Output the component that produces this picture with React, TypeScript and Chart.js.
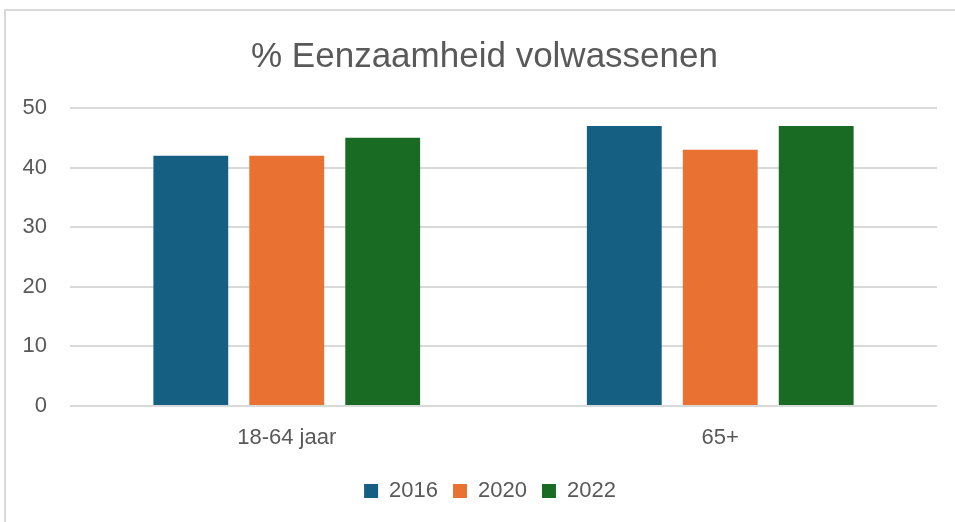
import React, { useEffect, useRef } from "react";
import { Chart, registerables } from "chart.js";

Chart.register(...registerables);

const categories = ["18-64 jaar", "65+"];
const seriesNames = ["2016", "2020", "2022"];
const values2016 = [42, 47];
const values2020 = [42, 43];
const values2022 = [45, 47];
const yTicks = [0, 10, 20, 30, 40, 50];
const titleText = "% Eenzaamheid volwassenen";

const colors = ["#156082", "#E97132", "#196B24"];
const FONT = "'Liberation Sans', Arial, sans-serif";
const TEXT = "#595959";

const centerBlocks = {
  id: "centerBlocks",
  afterLayout(chart: any) {
    const t = chart.titleBlock;
    if (t) {
      t.left = 14;
      t.right = 955;
      t.width = t.right - t.left;
    }
    const l = chart.legend;
    if (l) {
      l.left = 25;
      l.right = 955;
      l.width = l.right - l.left;
    }
  },
};

export default function App() {
  const ref = useRef<HTMLCanvasElement | null>(null);

  useEffect(() => {
    document.body.style.margin = "0";
    if (!ref.current) return;
    const data = [values2016, values2020, values2022];
    const chart = new Chart(ref.current, {
      type: "bar",
      data: {
        labels: categories,
        datasets: seriesNames.map((n, i) => ({
          label: n,
          data: data[i],
          backgroundColor: colors[i],
          borderWidth: 0,
          categoryPercentage: 0.664,
          barPercentage: 0.78,
        })),
      },
      plugins: [centerBlocks],
      options: {
        animation: false,
        responsive: false,
        maintainAspectRatio: false,
        layout: { padding: { left: 0, right: 18, top: 0, bottom: 10 } },
        plugins: {
          title: {
            display: true,
            text: titleText,
            color: TEXT,
            font: { family: FONT, size: 35, weight: "normal", lineHeight: 1.2 },
            padding: { top: 36, bottom: 30 },
          },
          legend: {
            position: "bottom",
            labels: {
              color: TEXT,
              font: { family: FONT, size: 22 },
              boxWidth: 14,
              boxHeight: 14,
              padding: 15,
            },
          },
          tooltip: { enabled: false },
        },
        scales: {
          x: {
            grid: { display: false, drawTicks: false },
            border: { display: false },
            ticks: { color: TEXT, font: { family: FONT, size: 22 }, padding: 19 },
            afterFit: (s: any) => {
              s.height = 59;
            },
          },
          y: {
            min: 0,
            max: 50,
            afterBuildTicks: (s: any) => {
              s.ticks = yTicks.map((v) => ({ value: v }));
            },
            grid: { color: "#D9D9D9", lineWidth: 2, drawTicks: false },
            border: { display: false },
            ticks: { color: TEXT, font: { family: FONT, size: 22 }, padding: 23 },
            afterFit: (s: any) => {
              s.width = 70;
            },
          },
        },
      },
    });
    return () => chart.destroy();
  }, []);

  return (
    <div style={{ position: "relative", width: 955, height: 522, overflow: "hidden", background: "#fff" }}>
      <div
        style={{
          position: "absolute",
          left: 4,
          top: 9,
          width: 1000,
          height: 600,
          borderLeft: "2px solid #D9D9D9",
          borderTop: "2px solid #D9D9D9",
        }}
      />
      <canvas ref={ref} width={955} height={522} style={{ position: "absolute", left: 0, top: 0, width: 955, height: 522 }} />
    </div>
  );
}
